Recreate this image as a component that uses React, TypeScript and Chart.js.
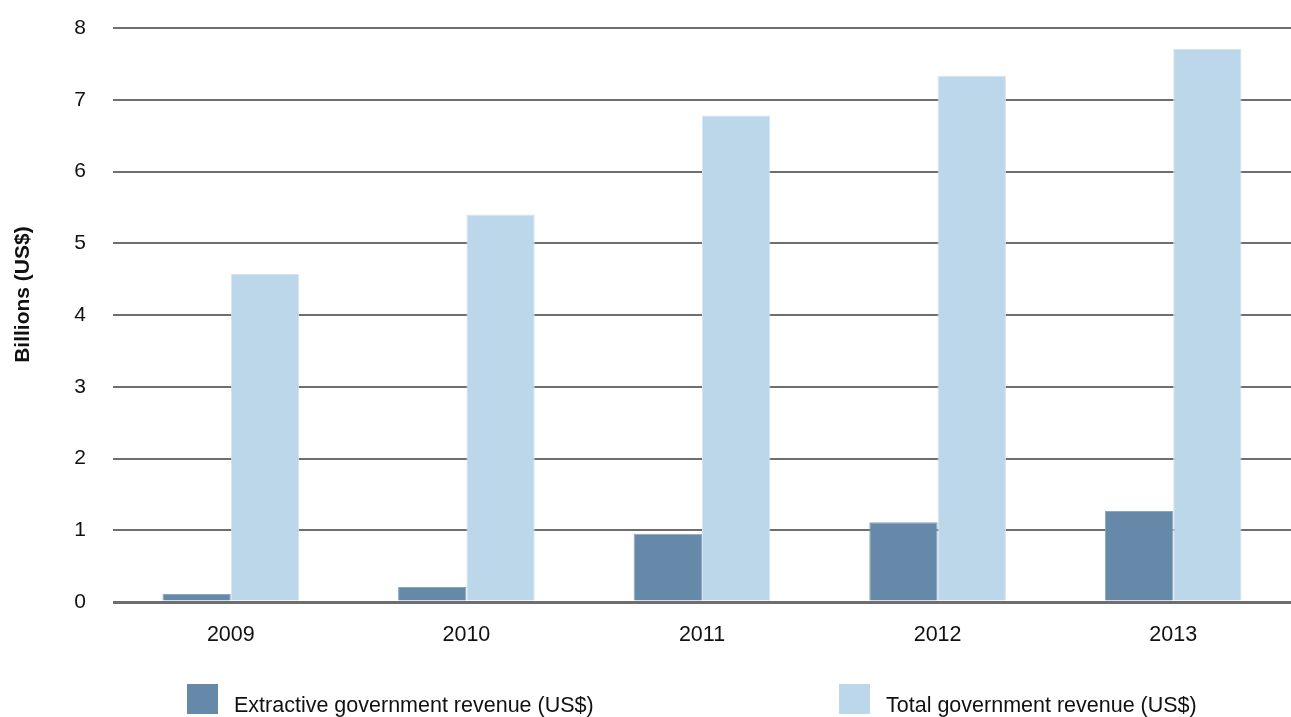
import React, { useEffect, useRef } from "react";
import { Chart, registerables } from "chart.js";

Chart.register(...registerables);

const years = ["2009", "2010", "2011", "2012", "2013"];
const extractiveRevenue = [0.11, 0.21, 0.95, 1.11, 1.27];
const totalRevenue = [4.57, 5.4, 6.78, 7.33, 7.71];
const seriesNames = ["Extractive government revenue (US$)", "Total government revenue (US$)"];
const yAxisTitle = "       Billions (US$)";
const yMin = 0;
const yMax = 8;
const yStep = 1;

const extractiveColor = "#6689aa";
const extractiveBorder = "#8aa6c0";
const totalColor = "#bdd7ea";
const totalBorder = "#d3e5f2";
const FONT = "'Liberation Sans', Arial, Helvetica, sans-serif";

export default function App() {
  const canvasRef = useRef<HTMLCanvasElement | null>(null);

  useEffect(() => {
    const canvas = canvasRef.current;
    if (!canvas) return;
    const chart = new Chart(canvas, {
      type: "bar",
      data: {
        labels: years,
        datasets: [
          {
            label: seriesNames[0],
            data: extractiveRevenue,
            backgroundColor: extractiveColor,
            borderColor: extractiveBorder,
            borderWidth: 1,
            categoryPercentage: 0.58,
            barPercentage: 1,
          },
          {
            label: seriesNames[1],
            data: totalRevenue,
            backgroundColor: totalColor,
            borderColor: totalBorder,
            borderWidth: 1,
            categoryPercentage: 0.58,
            barPercentage: 1,
          },
        ],
      },
      options: {
        animation: false,
        responsive: true,
        maintainAspectRatio: false,
        layout: { padding: { top: 28, right: 0, bottom: 0, left: 0 } },
        plugins: {
          legend: { display: false },
          tooltip: { enabled: false },
        },
        scales: {
          x: {
            grid: { display: false, drawTicks: false },
            border: { display: false },
            ticks: {
              color: "#111",
              padding: 20,
              font: { family: FONT, size: 21.5 },
            },
            afterFit: (scale: any) => {
              scale.height = 115;
            },
          },
          y: {
            min: yMin,
            max: yMax,
            border: { display: false },
            grid: {
              drawTicks: false,
              color: "#6e6e6e",
              lineWidth: (ctx: any) => (ctx.tick && ctx.tick.value === 0 ? 3 : 2),
            },
            ticks: {
              stepSize: yStep,
              color: "#111",
              padding: 27,
              font: { family: FONT, size: 21 },
            },
            title: {
              display: true,
              text: yAxisTitle,
              color: "#111",
              font: { family: FONT, size: 21, weight: "bold" },
              padding: { top: 11, bottom: 0 },
            },
            afterFit: (scale: any) => {
              scale.width = 113;
              scale.paddingTop = 0;
              scale.paddingBottom = 0;
            },
          },
        },
      },
    });
    return () => chart.destroy();
  }, []);

  const legendBox = (color: string): React.CSSProperties => ({
    width: 31,
    height: 30,
    background: color,
    marginRight: 16,
    flex: "none",
  });
  const legendText: React.CSSProperties = {
    fontFamily: FONT,
    fontSize: 21.5,
    color: "#111",
    whiteSpace: "nowrap",
    marginTop: 9,
  };

  return (
    <div style={{ position: "absolute", left: 0, top: 0, width: 1291, height: 717, background: "#fff" }}>
      <canvas ref={canvasRef} />
      <div style={{ position: "absolute", left: 187, top: 684, display: "flex", alignItems: "flex-start" }}>
        <div style={legendBox(extractiveColor)} />
        <span style={legendText}>{seriesNames[0]}</span>
      </div>
      <div style={{ position: "absolute", left: 839, top: 684, display: "flex", alignItems: "flex-start" }}>
        <div style={legendBox(totalColor)} />
        <span style={legendText}>{seriesNames[1]}</span>
      </div>
    </div>
  );
}
